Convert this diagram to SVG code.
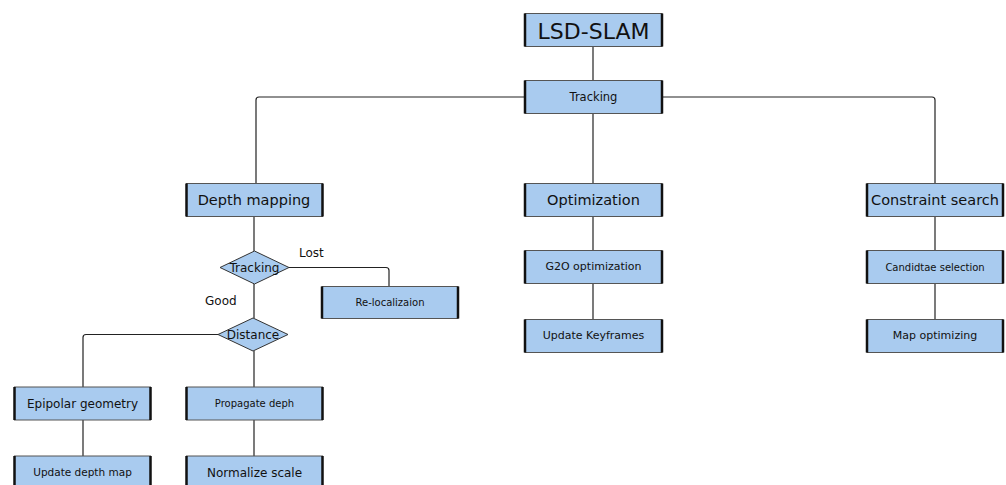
<svg xmlns="http://www.w3.org/2000/svg" width="1006" height="485" viewBox="0 0 1006 485">
<style>
.box{fill:#a9cbef;stroke:#555;stroke-width:1}
.side{stroke:#111;stroke-width:2.5}
.dia{fill:#a9cbef;stroke:#333;stroke-width:1}
.t{font-family:"DejaVu Sans",Verdana,sans-serif;fill:#111;text-anchor:middle;dominant-baseline:central}
.lbl{font-family:"DejaVu Sans",Verdana,sans-serif;fill:#111;font-size:12px}
.c{fill:none;stroke:#222;stroke-width:1.2}
</style>
<rect width="1006" height="485" fill="#fff"/>
<g id="connectors">
<path class="c" d="M593 47V80"/>
<path class="c" d="M525 97H259Q256 97 256 100V183"/>
<path class="c" d="M662 97H932Q935 97 935 100V183"/>
<path class="c" d="M593 113V183"/>
<path class="c" d="M254 216V251"/>
<path class="c" d="M289 267.5H386Q389 267.5 389 270.5V286"/>
<path class="c" d="M254 284V318"/>
<path class="c" d="M218 334.5H86Q83 334.5 83 337.5V387"/>
<path class="c" d="M254 351V387"/>
<path class="c" d="M83 420V456"/>
<path class="c" d="M254 420V456"/>
<path class="c" d="M593 217V250"/>
<path class="c" d="M593 283V319"/>
<path class="c" d="M935 217V250"/>
<path class="c" d="M935 283V319"/>
</g>
<g id="lsd-slam"><rect class="box" x="525" y="13.5" width="137" height="33"/><path class="side" d="M525 13.5V46.5M662 13.5V46.5"/><text class="t" x="593.5" y="31" font-size="22">LSD-SLAM</text></g>
<g id="tracking"><rect class="box" x="525" y="80.5" width="137" height="33"/><path class="side" d="M525 80.5V113.5M662 80.5V113.5"/><text class="t" x="593.5" y="97" font-size="11.5">Tracking</text></g>
<g id="depth-mapping"><rect class="box" x="186.5" y="183.5" width="136" height="33"/><path class="side" d="M186.5 183.5V216.5M322.5 183.5V216.5"/><text class="t" x="254" y="200" font-size="14.5">Depth mapping</text></g>
<g id="optimization"><rect class="box" x="525" y="183.5" width="137" height="33"/><path class="side" d="M525 183.5V216.5M662 183.5V216.5"/><text class="t" x="593.5" y="200" font-size="14.5">Optimization</text></g>
<g id="constraint-search"><rect class="box" x="867" y="183.5" width="136" height="33"/><path class="side" d="M867 183.5V216.5M1003 183.5V216.5"/><text class="t" x="935" y="200" font-size="14.5">Constraint search</text></g>
<g id="tracking-decision"><polygon class="dia" points="220,267.5 254.5,251 289,267.5 254.5,284"/><text class="t" x="254.5" y="267.5" font-size="12">Tracking</text></g>
<text class="lbl" x="299" y="257">Lost</text>
<g id="relocalization"><rect class="box" x="322" y="286.5" width="136" height="32"/><path class="side" d="M322 286.5V318.5M458 286.5V318.5"/><text class="t" x="390" y="302.5" font-size="10">Re-localizaion</text></g>
<text class="lbl" x="205" y="305">Good</text>
<g id="distance-decision"><polygon class="dia" points="218,334.5 253,318 288,334.5 253,351"/><text class="t" x="253" y="334.5" font-size="12">Distance</text></g>
<g id="epipolar"><rect class="box" x="14.5" y="387" width="136" height="33"/><path class="side" d="M14.5 387V420M150.5 387V420"/><text class="t" x="82.5" y="403.5" font-size="12">Epipolar geometry</text></g>
<g id="propagate"><rect class="box" x="186.5" y="387" width="136" height="33"/><path class="side" d="M186.5 387V420M322.5 387V420"/><text class="t" x="254.5" y="403.5" font-size="10">Propagate deph</text></g>
<g id="update-depth"><rect class="box" x="14.5" y="456" width="136" height="33"/><path class="side" d="M14.5 456V489M150.5 456V489"/><text class="t" x="82.5" y="472" font-size="10.5">Update depth map</text></g>
<g id="normalize"><rect class="box" x="186.5" y="456" width="136" height="33"/><path class="side" d="M186.5 456V489M322.5 456V489"/><text class="t" x="254.5" y="473" font-size="12">Normalize scale</text></g>
<g id="g2o"><rect class="box" x="525" y="250.5" width="137" height="33"/><path class="side" d="M525 250.5V283.5M662 250.5V283.5"/><text class="t" x="593.5" y="266.5" font-size="11">G2O optimization</text></g>
<g id="update-keyframes"><rect class="box" x="525" y="319.5" width="137" height="33"/><path class="side" d="M525 319.5V352.5M662 319.5V352.5"/><text class="t" x="593.5" y="335.5" font-size="11">Update Keyframes</text></g>
<g id="candidate"><rect class="box" x="867" y="250.5" width="136" height="33"/><path class="side" d="M867 250.5V283.5M1003 250.5V283.5"/><text class="t" x="935" y="267" font-size="10">Candidtae selection</text></g>
<g id="map-optimizing"><rect class="box" x="867" y="319.5" width="136" height="33"/><path class="side" d="M867 319.5V352.5M1003 319.5V352.5"/><text class="t" x="935" y="335.5" font-size="11">Map optimizing</text></g>
</svg>
